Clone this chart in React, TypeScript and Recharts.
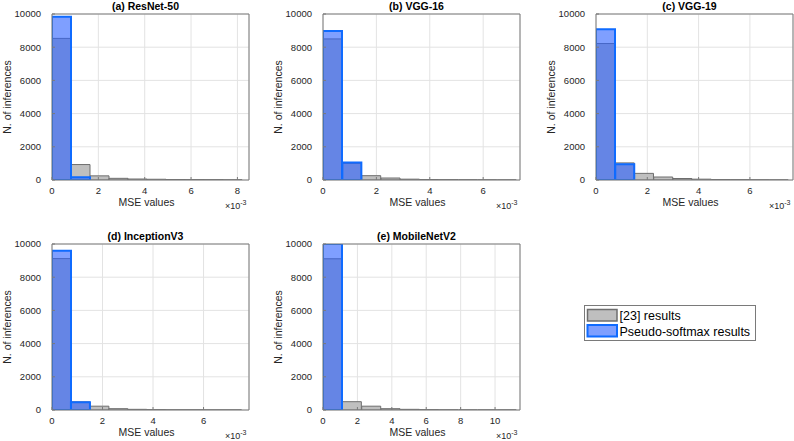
import React from 'react';
import { ComposedChart, Bar, XAxis, YAxis, CartesianGrid } from 'recharts';

const TITLES = ['(a) ResNet-50', '(b) VGG-16', '(c) VGG-19', '(d) InceptionV3', '(e) MobileNetV2'];
const SERIES = ['[23] results', 'Pseudo-softmax results'];

// histogram bin width and x limit, in units of 1e-3
const BIN_WIDTH = [0.82, 0.725, 0.75, 0.75, 1.125];
const X_MAX = [8.5, 7.38, 7.68, 7.8, 11.45];
const X_TICKS = [
  [0, 2, 4, 6, 8],
  [0, 2, 4, 6],
  [0, 2, 4, 6],
  [0, 2, 4, 6],
  [0, 2, 4, 6, 8, 10],
];
const Y_TICKS = [0, 2000, 4000, 6000, 8000, 10000];

// counts per bin ([23] results)
const REF_COUNTS = [
  [8530, 930, 250, 100, 60, 45, 30, 25, 20, 10],
  [8500, 1000, 260, 120, 50, 30, 20, 15, 10, 5],
  [8220, 1030, 400, 180, 90, 50, 30, 20, 10, 5],
  [9120, 490, 230, 80, 40, 20, 10, 10, 5, 5],
  [9110, 500, 230, 80, 40, 20, 10, 5, 5, 5],
];
// counts per bin (Pseudo-softmax results)
const PSEUDO_COUNTS = [
  [9840, 170, 0, 0, 0, 0, 0, 0, 0, 0],
  [8970, 1060, 0, 0, 0, 0, 0, 0, 0, 0],
  [9080, 950, 0, 0, 0, 0, 0, 0, 0, 0],
  [9590, 470, 0, 0, 0, 0, 0, 0, 0, 0],
  [10000, 0, 0, 0, 0, 0, 0, 0, 0, 0],
];

const GREY_FILL = '#bfbfbf';
const GREY_EDGE = '#6e6e6e';
const BLUE_FILL = '#2a5fff';
const BLUE_EDGE = '#0f6bff';
const AXIS = '#7a7a7a';
const TEXT = '#262626';
const FONT = '"Liberation Sans", Arial, sans-serif';

const PANEL_POS = [
  { left: 0, top: 0 },
  { left: 271, top: 0 },
  { left: 544, top: 0 },
  { left: 0, top: 230 },
  { left: 271, top: 230 },
];

const YLabel = ({ viewBox }: any) => {
  const cx = viewBox.x - 4.7;
  const cy = viewBox.y + viewBox.height / 2;
  return (
    <text x={cx} y={cy} transform={`rotate(-90, ${cx}, ${cy})`} textAnchor="middle"
      dominantBaseline="central" fontSize={10.5} fill={TEXT} fontFamily={FONT}>
      N. of inferences
    </text>
  );
};

const XLabel = ({ viewBox }: any) => {
  const { x, y, width } = viewBox;
  return (
    <g fontFamily={FONT} fill={TEXT}>
      <text x={x + width / 2 - 4} y={y + 21.7} textAnchor="middle" dominantBaseline="central" fontSize={10.5}>
        MSE values
      </text>
      <text x={x + width - 2.5} y={y + 25.5} textAnchor="end" dominantBaseline="central" fontSize={9}>
        <tspan>×10</tspan>
        <tspan dy={-4} fontSize={7}>-3</tspan>
      </text>
    </g>
  );
};

const makeTitle = (text: string) => ({ viewBox }: any) => (
  <text x={viewBox.x + viewBox.width / 2 - 5} y={viewBox.y + viewBox.height - 8} textAnchor="middle"
    dominantBaseline="central" fontSize={10.5} fontWeight="bold" fill="#000" fontFamily={FONT}>
    {text}
  </text>
);

const Panel = ({ p }: { p: number }) => {
  const data = REF_COUNTS[p].map((v, i) => ({
    mse: (i + 0.5) * BIN_WIDTH[p],
    baseline: v,
    pseudo: PSEUDO_COUNTS[p][i],
  }));
  const tickStyle = { fontSize: 9.5, fill: TEXT, fontFamily: FONT };
  return (
    <div style={{ position: 'absolute', ...PANEL_POS[p] }}>
      <ComposedChart width={251} height={216} data={data} barCategoryGap={0} barGap={0}
        margin={{ top: 13, right: 1, left: 12, bottom: 6 }}>
        <CartesianGrid stroke="#e3e3e3" />
        <XAxis type="number" dataKey="mse" domain={[0, X_MAX[p]]} ticks={X_TICKS[p]} allowDataOverflow
          height={30} tickSize={-3} tickMargin={10} stroke={AXIS} tick={tickStyle}
          label={XLabel} />
        <XAxis xAxisId="top" orientation="top" type="number" dataKey="mse" domain={[0, X_MAX[p]]}
          ticks={X_TICKS[p]} allowDataOverflow height={1} tickSize={-3} tick={false} stroke={AXIS}
          label={makeTitle(TITLES[p])} />
        <YAxis type="number" domain={[0, 10000]} ticks={Y_TICKS} allowDataOverflow width={40}
          tickSize={-3} tickMargin={14} stroke={AXIS} tick={tickStyle} label={YLabel} />
        <YAxis yAxisId="right" orientation="right" type="number" domain={[0, 10000]} ticks={Y_TICKS}
          allowDataOverflow width={1} tickSize={-3} tick={false} stroke={AXIS} />
        <Bar dataKey="baseline" name={SERIES[0]} fill={GREY_FILL} stroke={GREY_EDGE} strokeWidth={1}
          isAnimationActive={false} />
        <Bar dataKey="pseudo" name={SERIES[1]} xAxisId="top" yAxisId="right" fill={BLUE_FILL}
          fillOpacity={0.6} stroke={BLUE_EDGE} strokeWidth={2} isAnimationActive={false} />
      </ComposedChart>
    </div>
  );
};

const LegendBox = () => {
  const swatches = [
    { fill: GREY_FILL, opacity: 1, stroke: GREY_EDGE, sw: 1.5 },
    { fill: BLUE_FILL, opacity: 0.6, stroke: BLUE_EDGE, sw: 2 },
  ];
  return (
    <svg width={173} height={37} style={{ position: 'absolute', left: 583.5, top: 304.5 }}>
      <rect x={0.5} y={0.5} width={171} height={35} fill="#fff" stroke={AXIS} />
      {SERIES.map((name, i) => (
        <g key={name}>
          <rect x={3.5} y={4.5 + i * 15.5} width={29.5} height={11.5} fill={swatches[i].fill}
            fillOpacity={swatches[i].opacity} stroke={swatches[i].stroke} strokeWidth={swatches[i].sw} />
          <text x={35.5} y={10.5 + i * 16} dominantBaseline="central" fontSize={12.5} fill="#000"
            fontFamily={FONT}>
            {name}
          </text>
        </g>
      ))}
    </svg>
  );
};

export default function App() {
  return (
    <div style={{ position: 'absolute', left: 0, top: 0, width: 794, height: 441, background: '#fff', fontFamily: FONT }}>
      {TITLES.map((_, p) => (
        <Panel key={p} p={p} />
      ))}
      <LegendBox />
    </div>
  );
}
